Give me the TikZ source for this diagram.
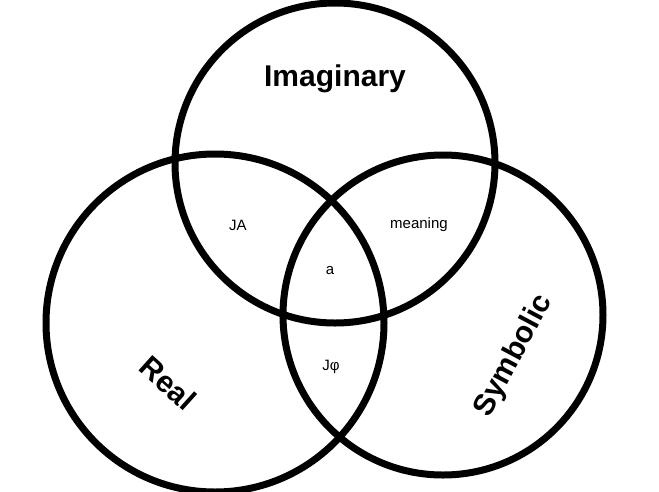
\documentclass[tikz,border=0pt]{standalone}
\usepackage{fontspec}
\setmainfont{Liberation Sans}
\begin{document}
\begin{tikzpicture}[x=1pt,y=-1pt,
  ring/.style={draw=black,line width=7pt},
  big/.style={font=\fontsize{30}{34}\selectfont\bfseries},
  small/.style={font=\fontsize{15}{18}\selectfont}]
\useasboundingbox (0,0) rectangle (659,491);
\draw[ring] (335,163) circle (160);
\draw[ring] (215,323) circle (169);
\draw[ring] (443,315) circle (160);
\node[big] (im) at (335,79) {Imaginary};
\node[big,rotate=-42] (re) at (168,383) {Real};
\node[big,rotate=62] (sy) at (514,356) {Symbolic};
\node[small] (ja) at (238,225) {JA};
\node[small] (me) at (419,225) {meaning};
\node[small] (a) at (330,271) {a};
\node[small] (jp) at (331,367) {Jφ};
\end{tikzpicture}
\end{document}
